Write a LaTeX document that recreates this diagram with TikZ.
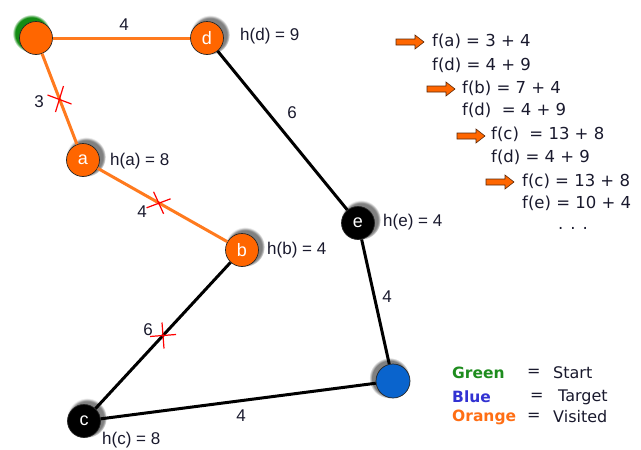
\documentclass[tikz,border=0pt]{standalone}
\usepackage{fontspec}
\setmainfont{Liberation Sans}
\newfontfamily\verd{DejaVu Sans}
\usetikzlibrary{shadows}
\definecolor{orn}{RGB}{255,102,0}
\definecolor{orE}{RGB}{255,122,30}
\definecolor{txt}{RGB}{25,25,45}
\definecolor{tgt}{RGB}{10,100,205}
\definecolor{glow}{RGB}{20,140,20}
\definecolor{lgreen}{RGB}{30,140,30}
\definecolor{lblue}{RGB}{50,50,210}
\definecolor{lorange}{RGB}{255,110,20}
\definecolor{arrowline}{RGB}{90,40,10}
\begin{document}
\begin{tikzpicture}[x=1pt,y=-1pt,
  every node/.style={text=txt},
  vert/.style={circle, minimum size=33pt, inner sep=0pt, draw=black!85, line width=0.7pt,
    text=white, font=\fontsize{18}{20}\selectfont},
  visited/.style={vert, fill=orn, circular drop shadow={shadow xshift=2.5pt, shadow yshift=2.5pt, opacity=1, shadow scale=1.2}},
  unvis/.style={vert, fill=black, circular drop shadow={shadow xshift=2.5pt, shadow yshift=2.5pt, opacity=1, shadow scale=1.2}},
  oedge/.style={draw=orE, line width=3pt},
  bedge/.style={draw=black, line width=3pt},
  wlab/.style={font=\fontsize{17}{20}\selectfont, inner sep=0pt},
  hlab/.style={font=\fontsize{17}{20}\selectfont, inner sep=0pt, anchor=west},
  flab/.style={font=\verd\fontsize{16.5}{20}\selectfont, inner sep=0pt, anchor=west},
  legk/.style={font=\verd\bfseries\fontsize{15.5}{20}\selectfont, inner sep=0pt, anchor=west},
  legv/.style={font=\verd\fontsize{16}{20}\selectfont, inner sep=0pt, anchor=west},
  xmark/.style={draw=red, line width=1.2pt},
  farrow/.style={fill=orn, draw=arrowline, line width=0.6pt}
]
\useasboundingbox (0,0) rectangle (641,450);

% nodes
\node[vert, fill=orn, circular drop shadow={shadow xshift=-4pt, shadow yshift=4pt, opacity=1, shadow scale=1.15, fill=glow}] (s) at (36,38) {};
\node[visited] (d) at (207,38) {d};
\node[visited] (a) at (83,160) {a};
\node[visited] (b) at (242,250) {b};
\node[unvis] (c) at (84,421) {c};
\node[unvis] (e) at (358,223) {e};
\node[vert, minimum size=34pt, fill=tgt, circular drop shadow={shadow xshift=-3pt, shadow yshift=2.5pt, opacity=1, shadow scale=1.2}] (t) at (393,381) {};

% edges
\draw[oedge] (s) -- (d);
\draw[oedge] (s) -- coordinate[pos=0.5] (x1) (a);
\draw[oedge] (a) -- coordinate[pos=0.47] (x2) (b);
\draw[bedge] (b) -- coordinate[pos=0.5] (x3) (c);
\draw[bedge] (c) -- (t);
\draw[bedge] (d) -- (e);
\draw[bedge] (e) -- (t);

% red crosses
\draw[xmark] ([shift={(-12,-4)}]x1) -- ([shift={(12,5)}]x1) ([shift={(4,-13)}]x1) -- ([shift={(-4,13)}]x1);
\draw[xmark] ([shift={(-12,5)}]x2) -- ([shift={(12,-4)}]x2) ([shift={(-5,-11)}]x2) -- ([shift={(5,11)}]x2);
\draw[xmark] ([shift={(-13,1)}]x3) -- ([shift={(13,-1)}]x3) ([shift={(-1,-13)}]x3) -- ([shift={(1,13)}]x3);

% weights
\node[wlab] (w1) at (124,25) {4};
\node[wlab] (w2) at (39,102) {3};
\node[wlab] (w3) at (142,212) {4};
\node[wlab] (w4) at (148,330) {6};
\node[wlab] (w5) at (292,113) {6};
\node[wlab] (w6) at (387,297) {4};
\node[wlab] (w7) at (241,416) {4};

% heuristics
\node[hlab] (hd) at (240,36) {h(d) = 9};
\node[hlab] (ha) at (110,161) {h(a) = 8};
\node[hlab] (hb) at (267,250) {h(b) = 4};
\node[hlab] (he) at (383,222) {h(e) = 4};
\node[hlab] (hc) at (102,440) {h(c) = 8};

% f list
\foreach \ax/\ay in {396/42, 427/89, 457/136, 486/182}{
  \draw[farrow] (\ax,\ay-3) -- (\ax+19,\ay-3) -- (\ax+19,\ay-7) -- (\ax+28,\ay) -- (\ax+19,\ay+7) -- (\ax+19,\ay+3) -- (\ax,\ay+3) -- cycle;
}
\node[flab] (f1) at (432,41) {f(a) = 3 + 4};
\node[flab] (f2) at (432,65) {f(d) = 4 + 9};
\node[flab] (f3) at (462,88) {f(b) = 7 + 4};
\node[flab] (f4) at (462,110) {f(d) \ = 4 + 9};
\node[flab] (f5) at (491,134) {f(c) \ = 13 + 8};
\node[flab] (f6) at (491,157) {f(d) = 4 + 9};
\node[flab] (f7) at (522,181) {f(c) = 13 + 8};
\node[flab] (f8) at (522,203) {f(e) = 10 + 4};
\node[flab] (f9) at (558,228) {. . .};

% legend
\node[legk, text=lgreen] (g1) at (452,373) {Green};
\node[legv] (g2) at (527,373) {=};
\node[legv] (g3) at (553,373) {Start};
\node[legk, text=lblue] (b1) at (452,397) {Blue};
\node[legv] (b2) at (530,397) {=};
\node[legv] (b3) at (558,397) {Target};
\node[legk, text=lorange] (o1) at (452,417) {Orange};
\node[legv] (o2) at (527,417) {=};
\node[legv] (o3) at (553,417) {Visited};
\end{tikzpicture}
\end{document}
